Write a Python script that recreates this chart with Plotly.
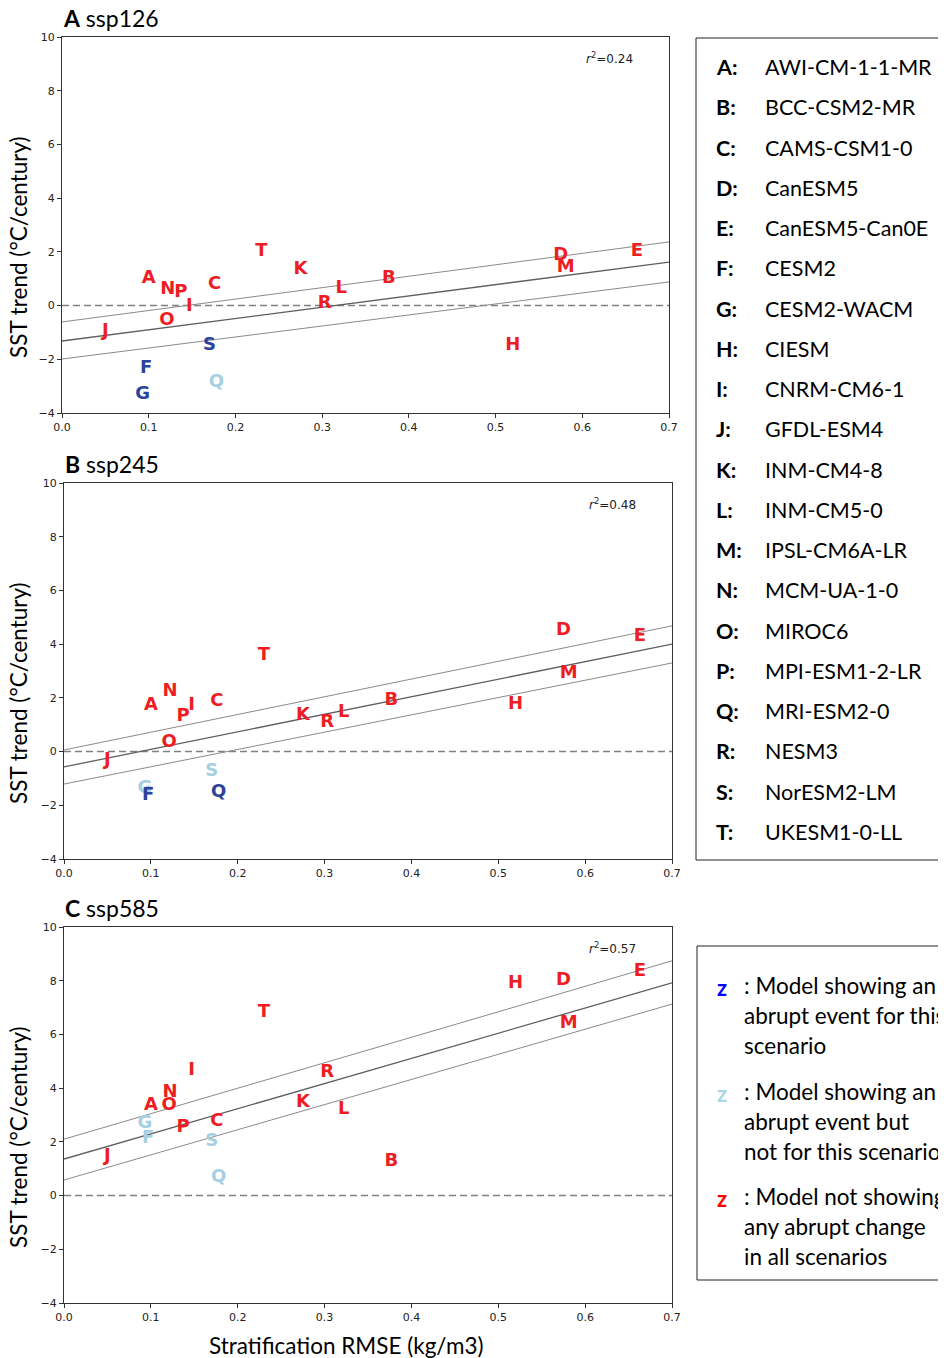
import plotly.graph_objects as go

# page body has an 8px margin; the figure is sized so that it fills the 946x1358 window
OFF = 8
W, H = 946 - OFF, 1358 - OFF


def px(x):
    return (x - OFF) / W


def py(y):
    return 1 - (y - OFF) / H


letters = list("ABCDEFGHIJKLMNOPQRST")
model_names = ["AWI-CM-1-1-MR", "BCC-CSM2-MR", "CAMS-CSM1-0", "CanESM5", "CanESM5-Can0E",
               "CESM2", "CESM2-WACM", "CIESM", "CNRM-CM6-1", "GFDL-ESM4", "INM-CM4-8",
               "INM-CM5-0", "IPSL-CM6A-LR", "MCM-UA-1-0", "MIROC6", "MPI-ESM1-2-LR",
               "MRI-ESM2-0", "NESM3", "NorESM2-LM", "UKESM1-0-LL"]

# Stratification RMSE per model (same in all panels)
rmse = [0.100, 0.377, 0.176, 0.575, 0.663, 0.097, 0.093, 0.520, 0.147, 0.050,
        0.275, 0.322, 0.581, 0.122, 0.121, 0.137, 0.178, 0.303, 0.170, 0.230]

# SST trend per scenario
sst_126 = [0.99, 0.99, 0.77, 1.85, 2.00, -2.33, -3.30, -1.50, -0.05, -0.98,
           1.36, 0.62, 1.40, 0.58, -0.54, 0.47, -2.88, 0.06, -1.47, 2.03]
sst_245 = [1.73, 1.92, 1.88, 4.49, 4.30, -1.65, -1.36, 1.77, 1.70, -0.35,
           1.36, 1.47, 2.89, 2.22, 0.32, 1.29, -1.54, 1.10, -0.76, 3.56]
sst_585 = [3.37, 1.28, 2.74, 8.02, 8.33, 2.14, 2.70, 7.91, 4.67, 1.47,
           3.48, 3.22, 6.39, 3.85, 3.37, 2.55, 0.69, 4.60, 2.03, 6.80]

# category: r = no abrupt change, b = abrupt event in this scenario, l = abrupt event but not this scenario
cat_126 = ["r"] * 5 + ["b", "b"] + ["r"] * 9 + ["l", "r", "b", "r"]
cat_245 = ["r"] * 5 + ["b", "l"] + ["r"] * 9 + ["b", "r", "l", "r"]
cat_585 = ["r"] * 5 + ["l", "l"] + ["r"] * 9 + ["l", "r", "l", "r"]

# regression line (centre, upper, lower) values at x=0 and x=0.7
fit_126 = {"c": (-1.32, 1.62), "u": (-0.61, 2.37), "l": (-1.99, 0.88)}
fit_245 = {"c": (-0.57, 4.00), "u": (0.06, 4.68), "l": (-1.21, 3.30)}
fit_585 = {"c": (1.36, 7.92), "u": (2.10, 8.74), "l": (0.58, 7.13)}

r2_vals = ["0.24", "0.48", "0.57"]
scen_names = ["ssp126", "ssp245", "ssp585"]
panel_tags = ["A", "B", "C"]

x_ticks = [0.0, 0.1, 0.2, 0.3, 0.4, 0.5, 0.6, 0.7]
y_ticks = [-4, -2, 0, 2, 4, 6, 8, 10]

colors = {"r": "#ee1d24", "b": "#2b4399", "l": "#a6cfe2"}
legend_z_colors = ["#0000ff", "#a8d8e6", "#ff0000"]

# pixel layout of panels in the window: (left, right, top, bottom)
panels_px = [(62, 669, 37, 413), (64, 672, 483, 859), (64, 672, 927, 1303)]

TXT_FONT = "Lato, Open Sans, sans-serif"
TICK_FONT = "DejaVu Sans"

fig = go.Figure()
layout = {}
annotations = []
shapes = []

datasets = [(sst_126, cat_126, fit_126), (sst_245, cat_245, fit_245), (sst_585, cat_585, fit_585)]

for i, ((sst, cat, fit), (l, r, t, b)) in enumerate(zip(datasets, panels_px)):
    k = "" if i == 0 else str(i + 1)
    xa, ya = "x" + k, "y" + k
    layout["xaxis" + k] = dict(
        domain=[px(l), px(r)], range=[0, 0.7], anchor=ya, automargin=False,
        tickvals=x_ticks, ticktext=[f"{v:.1f}" for v in x_ticks],
        ticks="outside", ticklen=4, tickwidth=1, tickcolor="#333",
        showline=True, linecolor="#333", linewidth=1, mirror=True,
        showgrid=False, zeroline=False,
        tickfont=dict(family=TICK_FONT, size=11, color="#222"),
    )
    layout["yaxis" + k] = dict(
        domain=[py(b), py(t)], range=[-4, 10], anchor=xa, automargin=False,
        tickvals=y_ticks, ticks="outside", ticklen=4, tickwidth=1, tickcolor="#333",
        showline=True, linecolor="#333", linewidth=1, mirror=True,
        showgrid=False, zeroline=False,
        tickfont=dict(family=TICK_FONT, size=11, color="#222"),
    )
    # zero dashed line
    fig.add_trace(go.Scatter(x=[0, 0.7], y=[0, 0], mode="lines", xaxis=xa, yaxis=ya,
                             line=dict(color="#808080", width=1.6, dash="7px,4px"),
                             hoverinfo="skip", showlegend=False))
    # regression lines
    for key, col, wd in [("u", "#8a8a8a", 1.0), ("c", "#5f5f5f", 1.3), ("l", "#8a8a8a", 1.0)]:
        fig.add_trace(go.Scatter(x=[0, 0.7], y=list(fit[key]), mode="lines", xaxis=xa, yaxis=ya,
                                 line=dict(color=col, width=wd), hoverinfo="skip", showlegend=False))
    # letters
    for c in ["r", "l", "b"]:
        idx = [j for j in range(len(letters)) if cat[j] == c]
        if not idx:
            continue
        fig.add_trace(go.Scatter(
            x=[rmse[j] for j in idx], y=[sst[j] for j in idx], text=[letters[j] for j in idx],
            mode="text", textposition="middle center", xaxis=xa, yaxis=ya,
            textfont=dict(family="DejaVu Sans", size=18, color=colors[c], weight="bold"),
            showlegend=False, hoverinfo="text"))
    # panel title
    annotations.append(dict(x=px(l - 1), y=py(t - 19), xref="paper", yref="paper",
                            xanchor="left", yanchor="middle", showarrow=False,
                            text=f"<b>{panel_tags[i]}</b> {scen_names[i]}",
                            font=dict(family=TXT_FONT, size=23, color="black")))
    # r2 label
    annotations.append(dict(x=px(r - 60), y=py(t + 21), xref="paper", yref="paper",
                            xanchor="center", yanchor="middle", showarrow=False,
                            text=f"<i>r</i><sup>2</sup>=" + r2_vals[i],
                            font=dict(family=TICK_FONT, size=12, color="#222")))
    # y title
    annotations.append(dict(x=px(18), y=py((t + b) / 2 + 22), xref="paper", yref="paper",
                            xanchor="center", yanchor="middle", showarrow=False, textangle=-90,
                            text="SST trend (°C/century)",
                            font=dict(family=TXT_FONT, size=22.5, color="black")))

# x title
annotations.append(dict(x=px(346), y=py(1345), xref="paper", yref="paper",
                        xanchor="center", yanchor="middle", showarrow=False,
                        text="Stratification RMSE (kg/m3)",
                        font=dict(family=TXT_FONT, size=22.5, color="black")))

# legend box 1: model names
shapes.append(dict(type="rect", xref="paper", yref="paper", x0=px(696), x1=1.05,
                   y0=py(860), y1=py(38), line=dict(color="#222", width=1)))
for j, (lt, nm) in enumerate(zip(letters, model_names)):
    yc = 67 + j * 40.26
    annotations.append(dict(x=px(714), y=py(yc), xref="paper", yref="paper",
                            xanchor="left", yanchor="middle", showarrow=False,
                            text=f"<b>{lt}:</b>", font=dict(family=TXT_FONT, size=21.5, color="black")))
    annotations.append(dict(x=px(763), y=py(yc), xref="paper", yref="paper",
                            xanchor="left", yanchor="middle", showarrow=False,
                            text=nm, font=dict(family=TXT_FONT, size=21.5, color="black")))

# legend box 2: colour meaning
shapes.append(dict(type="rect", xref="paper", yref="paper", x0=px(697), x1=1.05,
                   y0=py(1280), y1=py(946), line=dict(color="#222", width=1)))
legend_lines = [[": Model showing an", "abrupt event for this", "scenario"],
                [": Model showing an", "abrupt event but", "not for this scenario"],
                [": Model not showing", "any abrupt change", "in all scenarios"]]
legend_top = [985, 1091, 1196]
for g, (lines, y0, zc) in enumerate(zip(legend_lines, legend_top, legend_z_colors)):
    annotations.append(dict(x=px(722), y=py(y0 + 2), xref="paper", yref="paper",
                            xanchor="center", yanchor="middle", showarrow=False,
                            text="<b>z</b>", font=dict(family=TXT_FONT, size=22, color=zc)))
    for m, ln in enumerate(lines):
        annotations.append(dict(x=px(742), y=py(y0 + m * 30.3), xref="paper", yref="paper",
                                xanchor="left", yanchor="middle", showarrow=False,
                                text=ln, font=dict(family=TXT_FONT, size=22.5, color="black")))

fig.update_layout(width=W, height=H, margin=dict(l=0, r=0, t=0, b=0, pad=0, autoexpand=False),
                  plot_bgcolor="white", paper_bgcolor="white",
                  annotations=annotations, shapes=shapes, **layout)

fig.write_html("out.html")
